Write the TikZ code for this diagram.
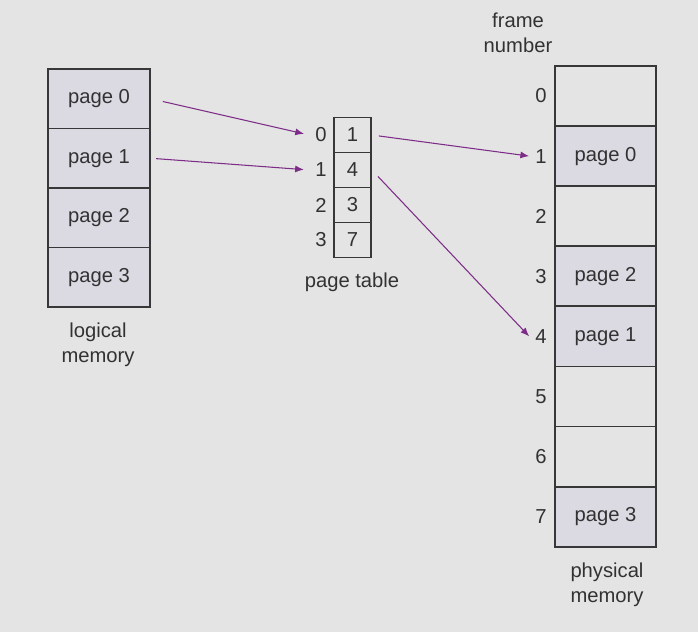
\documentclass[tikz,border=0pt]{standalone}
\usepackage{fontspec}
\setmainfont{Liberation Sans}
\usetikzlibrary{positioning, arrows.meta}

\definecolor{bggray}{RGB}{228,228,228}
\definecolor{pagefill}{RGB}{219,218,227}
\definecolor{linkpurple}{RGB}{125,45,135}
\definecolor{edgegray}{RGB}{55,55,55}
\definecolor{textgray}{RGB}{50,50,50}

\begin{document}
\begin{tikzpicture}[x=0.02cm, y=-0.02cm, font=\fontsize{11.5}{14}\selectfont, text=textgray,
    memcell/.style={draw=edgegray, line width=1pt, inner sep=0pt, minimum width=2.04cm, minimum height=1.19cm},
    tabcell/.style={draw=edgegray, line width=1pt, inner sep=0pt, minimum width=0.74cm, minimum height=0.70cm},
    framecell/.style={draw=edgegray, line width=1pt, inner sep=0pt, minimum width=2.02cm, minimum height=1.202cm},
    caption/.style={align=center},
    link/.style={draw=linkpurple, line width=0.6pt, -{Latex[length=5pt, width=4pt]}}]

    % Background and picture size
    \fill[bggray] (0,0) rectangle (698,632);
    \useasboundingbox (0,0) rectangle (698,632);

    % Logical memory
    \foreach \i in {0,...,3}
        \node[memcell, fill=pagefill] (lp\i) at (99,98.75+59.5*\i) {page \i};
    \node[caption] (lcap) at (98,345) {logical\\memory};

    % Page table
    \foreach \i/\f in {0/1, 1/4, 2/3, 3/7} {
        \node[tabcell] (pt\i) at (352.5,135+35*\i) {\f};
        \node (pidx\i) at (321,135+35*\i) {\i};
    }
    \node[caption] (pcap) at (352,282) {page table};

    % Physical memory
    \foreach \i/\p/\c in {0//bggray, 1/page 0/pagefill, 2//bggray, 3/page 2/pagefill,
                          4/page 1/pagefill, 5//bggray, 6//bggray, 7/page 3/pagefill} {
        \node[framecell, fill=\c] (fr\i) at (605.5,96+60.1*\i) {\p};
        \node (frn\i) at (541,96+60.1*\i) {\i};
    }
    \node[caption] (fcap) at (518,33) {frame\\number};
    \node[caption] (mcap) at (607,585) {physical\\memory};

    % Mapping arrows
    \draw[link, shorten <=7pt, shorten >=3pt] (lp0.east) -- (pidx0.west);
    \draw[link, shorten <=3pt, shorten >=3pt] (lp1.east) -- (pidx1.west);
    \draw[link, shorten <=4pt] (pt0.east) -- (frn1.west);
    \draw[link, shorten <=5pt] (pt1.east) -- (frn4.west);
\end{tikzpicture}
\end{document}
